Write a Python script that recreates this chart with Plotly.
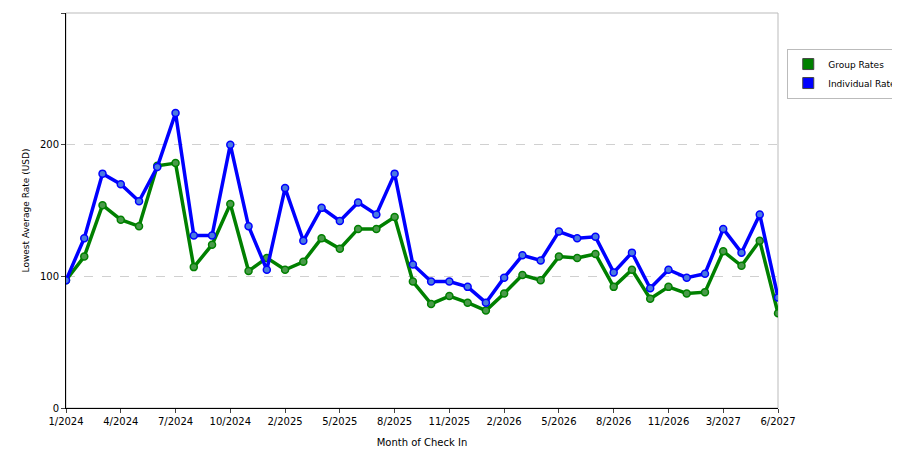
import plotly.graph_objects as go

tick_labels = ["1/2024","4/2024","7/2024","10/2024","2/2025","5/2025","8/2025","11/2025","2/2026","5/2026","8/2026","11/2026","3/2027","6/2027"]
group_rates = [97,115,154,143,138,184,186,107,124,155,104,114,105,111,129,121,136,136,145,96,
               79,85,80,74,87,101,97,115,114,117,92,105,83,92,87,88,119,108,127,72]
individual_rates = [97,129,178,170,157,183,224,131,131,200,138,105,167,127,152,142,156,147,178,109,
                    96,96,92,80,99,116,112,134,129,130,103,118,91,105,99,102,136,118,147,84]
x = list(range(len(group_rates)))

fig = go.Figure()
for name, vals, col, mk in [("Group Rates", group_rates, "#008000", "#4a9a4a"),
                            ("Individual Rates", individual_rates, "#0000ff", "#4a7ae0")]:
    fig.add_trace(go.Scatter(x=x, y=vals, name=name, mode="lines+markers", showlegend=False,
                             line=dict(color=col, width=3.5),
                             marker=dict(size=7, color=mk, line=dict(color=col, width=1.5))))
for name, col in [("Group Rates", "#008000"), ("Individual Rates", "#0000ff")]:
    fig.add_trace(go.Scatter(x=[None], y=[None], name=name, mode="markers",
                             marker=dict(symbol="square", size=11, color=col,
                                         line=dict(color="#444", width=1))))

fig.update_layout(
    width=900, height=450, paper_bgcolor="white", plot_bgcolor="white",
    margin=dict(l=58, r=130, t=5, b=50, autoexpand=False),
    font=dict(family="DejaVu Sans", size=10, color="black"),
    legend=dict(x=1.013, y=0.91, xanchor="left", yanchor="top", bordercolor="#bbbbbb",
                borderwidth=1, font=dict(size=9), itemwidth=30, traceorder="normal"),
    showlegend=True,
)
fig.update_xaxes(range=[0, len(x)-1], tickvals=x[::3], ticktext=tick_labels, showgrid=False,
                 showline=True, linecolor="black", ticks="outside", ticklen=4, automargin=False,
                 title=dict(text="Month of Check In", font=dict(size=10), standoff=12), zeroline=False)
fig.update_yaxes(range=[0, 300], tickvals=[0,100,200,300], showgrid=True, gridcolor="#d0d0d0",
                 griddash="dash", showline=True, linecolor="black", ticks="outside", ticklen=4,
                 automargin=False,
                 title=dict(text="Lowest Average Rate (USD)", font=dict(size=9), standoff=8), zeroline=False)
fig.add_shape(type="rect", xref="paper", yref="paper", x0=0, x1=1, y0=0, y1=1,
              line=dict(color="#bbbbbb", width=1), layer="below")
fig.write_html("out.html")
